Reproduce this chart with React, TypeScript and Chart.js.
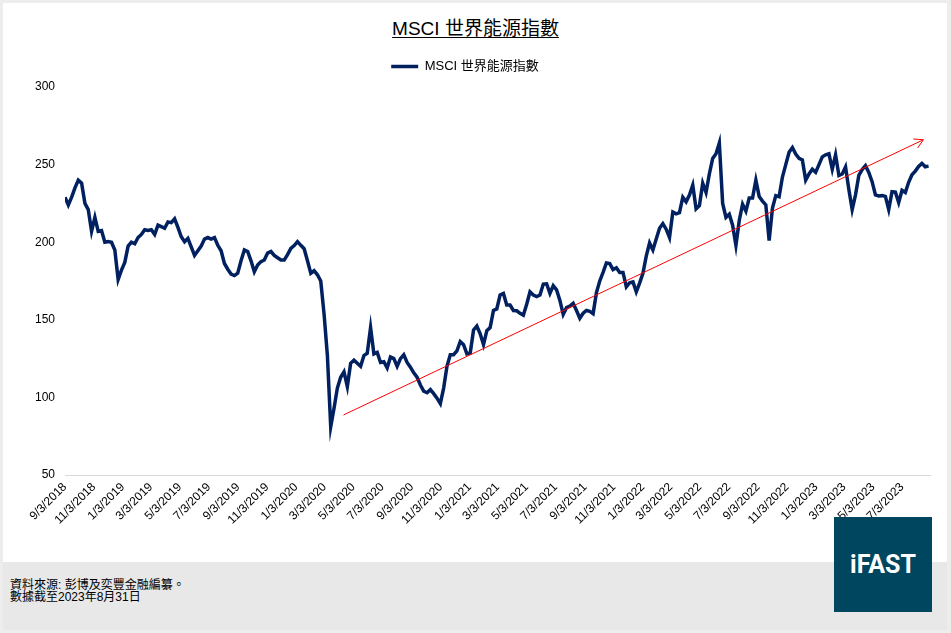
import React, { useEffect, useRef } from "react";
import { Chart, registerables } from "chart.js";

Chart.register(...registerables);

// ---------- data ----------
const titleText = "MSCI 世界能源指數";
const seriesName = "MSCI 世界能源指數";
const startDate = "2018-09-03"; // first weekly observation
const endDate = "2023-08-31"; // end of axis
const stepDays = 7; // one value per week

const values = [
  229, 224, 229, 235, 240, 238, 225, 221, 207, 216,
  207, 207.5, 200, 200.5, 200, 195, 176, 182, 187, 197.5,
  200, 199, 203, 205, 208, 207.5, 208, 205, 211, 210,
  209, 213, 212.6, 215, 209.5, 203.5, 200.3, 202.5, 197, 191.5,
  194.5, 197.5, 202, 203, 202, 203, 198, 194.5, 186.3, 182.6,
  179.5, 178.5, 180, 188, 195, 194, 188, 181, 185.3, 187.5,
  188.5, 193, 194, 191.5, 190, 188.5, 188.5, 192, 196, 197.8,
  200.4, 198, 195.8, 188, 180, 181.6, 179, 175, 153.7, 127,
  81, 93, 106, 113, 116.5, 107, 122, 124, 122, 120,
  127, 128.4, 145, 128, 129, 122.5, 123, 119, 126, 125,
  120, 125, 127.5, 122.5, 119.5, 115.8, 113, 108, 104, 103,
  105, 102.4, 99.5, 96, 106, 120, 127.5, 127.5, 130, 136,
  134, 128, 128.6, 143.5, 146, 141, 134, 143, 145, 156,
  157, 166, 167, 159.5, 159.5, 156, 155.8, 154.2, 153, 160,
  168, 166, 165, 166, 173, 173.2, 167, 172, 169.3, 162.5,
  153.5, 157.8, 158.8, 160.6, 156, 151, 154.2, 156, 155.5, 154,
  167.5, 175, 180.6, 186.6, 186.2, 182.3, 183.5, 180.5, 180.5, 171.2,
  173.9, 174.4, 168, 173.6, 180, 191, 199.5, 195, 202, 209,
  212, 208.4, 203, 219.5, 218.3, 219, 229, 226, 230.4, 236.8,
  221.5, 223.5, 238, 232, 244, 254, 257, 264, 225, 216,
  218, 211, 198, 214, 224.5, 220, 228.5, 228.5, 240, 229.5,
  226.5, 224, 201, 222, 230, 229.3, 242, 250, 258, 261,
  256.8, 254, 253, 240, 244, 247, 245, 250, 255, 256.3,
  257, 247, 256.3, 243, 244, 248.5, 234, 221, 230.5, 243,
  246.8, 249.3, 245, 239, 230.5, 229.8, 230, 229.5, 221, 232.5,
  232.3, 225.5, 233.4, 232, 238.6, 243.5, 245.8, 248.8, 250.8, 248.6,
  249,
];

const tickLabels = [
  "9/3/2018", "11/3/2018",
  "1/3/2019", "3/3/2019", "5/3/2019", "7/3/2019", "9/3/2019", "11/3/2019",
  "1/3/2020", "3/3/2020", "5/3/2020", "7/3/2020", "9/3/2020", "11/3/2020",
  "1/3/2021", "3/3/2021", "5/3/2021", "7/3/2021", "9/3/2021", "11/3/2021",
  "1/3/2022", "3/3/2022", "5/3/2022", "7/3/2022", "9/3/2022", "11/3/2022",
  "1/3/2023", "3/3/2023", "5/3/2023", "7/3/2023",
];

// red trend arrow (start, end)
const arrowDates = ["2020-04-12", "2023-08-17"];
const arrowValues = [88.7, 266];

const yMin = 50;
const yMax = 300;
const yStep = 50;

const sourceLines = ["資料來源: 彭博及奕豐金融編纂。", "數據截至2023年8月31日"];
const logoText = "iFAST";

// ---------- styles ----------
const FONT = "'Liberation Sans', Arial, 'Noto Sans CJK TC', sans-serif";
const NAVY = "#002060";
const RED = "#ff0000";

function toUTC(s: string): number {
  if (s.includes("/")) {
    const [m, d, y] = s.split("/").map(Number);
    return Date.UTC(y, m - 1, d);
  }
  const [y, m, d] = s.split("-").map(Number);
  return Date.UTC(y, m - 1, d);
}
const DAY = 86400000;
const dayOf = (s: string) => Math.round((toUTC(s) - toUTC(startDate)) / DAY);

const arrowHead = {
  id: "arrowHead",
  afterDatasetsDraw(chart: any) {
    const meta = chart.getDatasetMeta(1);
    const pts = meta.data;
    if (!pts || pts.length < 2) return;
    const a = pts[pts.length - 2];
    const b = pts[pts.length - 1];
    const ang = Math.atan2(b.y - a.y, b.x - a.x);
    const len = 10;
    const spread = Math.PI / 6;
    const ctx = chart.ctx;
    ctx.save();
    ctx.strokeStyle = RED;
    ctx.lineWidth = 1;
    ctx.beginPath();
    ctx.moveTo(b.x - len * Math.cos(ang - spread), b.y - len * Math.sin(ang - spread));
    ctx.lineTo(b.x, b.y);
    ctx.lineTo(b.x - len * Math.cos(ang + spread), b.y - len * Math.sin(ang + spread));
    ctx.stroke();
    ctx.restore();
  },
};

function LineChart() {
  const ref = useRef<HTMLCanvasElement | null>(null);
  useEffect(() => {
    if (!ref.current) return;
    Chart.defaults.font.family = FONT;
    const startDay = 0;
    const mainData = values.map((v, i) => ({ x: startDay + i * stepDays, y: v }));
    const arrowData = arrowDates.map((d, i) => ({ x: dayOf(d), y: arrowValues[i] }));
    const tickMap: Record<number, string> = {};
    tickLabels.forEach((t) => {
      tickMap[dayOf(t)] = t;
    });

    const chart = new Chart(ref.current, {
      type: "line",
      data: {
        datasets: [
          {
            label: seriesName,
            data: mainData,
            borderColor: NAVY,
            backgroundColor: NAVY,
            borderWidth: 3.5,
            pointRadius: 0,
            tension: 0,
            order: 1,
          },
          {
            label: "trend",
            data: arrowData,
            borderColor: RED,
            backgroundColor: RED,
            borderWidth: 1,
            pointRadius: 0,
            order: 0,
          },
        ],
      },
      options: {
        animation: false,
        responsive: false,
        maintainAspectRatio: false,
        layout: { padding: { top: 5, right: 21, left: 0, bottom: 0 } },
        plugins: {
          legend: {
            display: true,
            position: "top",
            labels: {
              boxWidth: 27,
              boxHeight: 0,
              padding: 10,
              color: "#000",
              font: { size: 13, family: FONT },
              filter: (item: any) => item.datasetIndex === 0,
            },
          },
          // small spacer box between the legend and the plot area
          subtitle: {
            display: true,
            text: " ",
            weight: 500,
            padding: 0,
            font: { size: 4, lineHeight: 1 },
          },
          tooltip: { enabled: false },
          title: { display: false },
        },
        scales: {
          x: {
            type: "linear",
            min: 0,
            max: dayOf(endDate),
            afterBuildTicks: (scale: any) => {
              scale.ticks = tickLabels.map((t) => ({ value: dayOf(t) }));
            },
            afterFit: (scale: any) => {
              scale.height = 85;
            },
            grid: { display: false, drawTicks: false },
            border: { display: true, color: "#d9d9d9", width: 1 },
            ticks: {
              autoSkip: false,
              maxRotation: 45,
              minRotation: 45,
              padding: 5,
              color: "#000",
              font: { size: 12, family: FONT },
              callback: (v: any) => tickMap[v as number] ?? "",
            },
          },
          y: {
            min: yMin,
            max: yMax,
            afterFit: (scale: any) => {
              scale.width = 65;
            },
            grid: { display: false, drawTicks: false },
            border: { display: false },
            ticks: {
              stepSize: yStep,
              padding: 10,
              color: "#000",
              font: { size: 12, family: FONT },
            },
          },
        },
      },
      plugins: [arrowHead],
    } as any);
    return () => chart.destroy();
  }, []);
  return (
    <canvas
      ref={ref}
      width={951}
      height={515}
      style={{ position: "absolute", left: 0, top: 45, width: 951, height: 515 }}
    />
  );
}

export default function App() {
  return (
    <div
      style={{
        position: "fixed",
        left: 0,
        top: 0,
        width: 951,
        height: 633,
        background: "#ededed",
        fontFamily: FONT,
        overflow: "hidden",
      }}
    >
      <div
        style={{
          position: "absolute",
          left: 3,
          top: 3,
          width: 944,
          height: 627,
          background: "#ffffff",
        }}
      />
      <div
        style={{
          position: "absolute",
          left: 3,
          top: 562,
          width: 944,
          height: 68,
          background: "#e8e8e8",
        }}
      />
      <div
        style={{
          position: "absolute",
          left: 0,
          top: 17,
          width: 951,
          textAlign: "center",
          fontSize: 19,
          lineHeight: "24px",
          color: "#000",
          textDecoration: "underline",
          textUnderlineOffset: 2,
        }}
      >
        {titleText}
      </div>
      <LineChart />
      <div
        style={{
          position: "absolute",
          left: 10,
          top: 579,
          fontSize: 12,
          lineHeight: "12px",
          color: "#000",
        }}
      >
        {sourceLines.map((l) => (
          <div key={l}>{l}</div>
        ))}
      </div>
      <div
        style={{
          position: "absolute",
          left: 834,
          top: 517,
          width: 98,
          height: 95,
          background: "#00465f",
          color: "#ffffff",
          display: "flex",
          alignItems: "center",
          justifyContent: "center",
          fontFamily: "Roboto, 'Liberation Sans', Arial, sans-serif",
          fontWeight: 700,
          fontSize: 25,
        }}
      >
        {logoText}
      </div>
    </div>
  );
}
